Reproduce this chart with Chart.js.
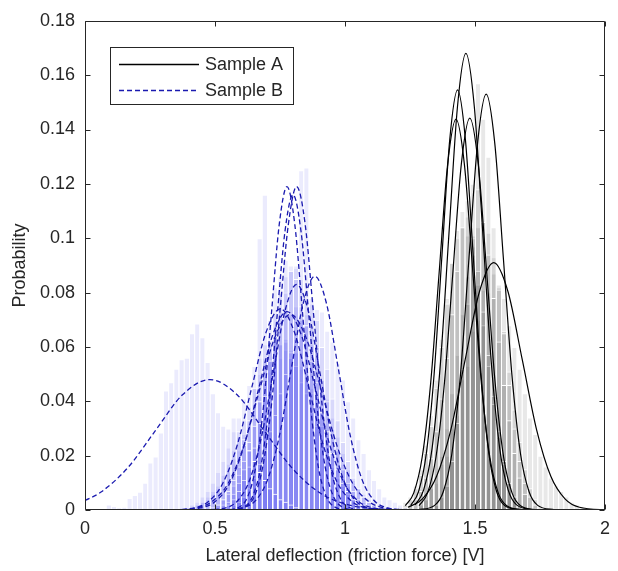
<!DOCTYPE html>
<html lang="en">
<head>
<meta charset="UTF-8">
<title>Lateral deflection histograms</title>
<script src="https://cdn.jsdelivr.net/npm/chart.js"></script>
<style>
  html, body { margin: 0; padding: 0; background: #fff; }
  .chart-box { width: 618px; height: 571px; position: relative; }
</style>
</head>
<body>
<div class="chart-box"><canvas id="histChart"></canvas></div>
<script>
// axis ticks
const xTickValues = [0, 0.5, 1, 1.5, 2];
const xTickLabels = ['0', '0.5', '1', '1.5', '2'];
const yTickValues = [0, 0.02, 0.04, 0.06, 0.08, 0.1, 0.12, 0.14, 0.16, 0.18];
const yTickLabels = ['0', '0.02', '0.04', '0.06', '0.08', '0.1', '0.12', '0.14', '0.16', '0.18'];

const seriesNames = ['Sample A', 'Sample B'];

// histograms: bin width 0.02, first bin centre of each one + probabilities
const binWidth = 0.02;
const histBStart = [0.09, 0.51, 0.55, 0.53, 0.57, 0.49, 0.37, 0.39, 0.39];
const histB = [
  [0.002,0.0015,0.001,0.0012,0.0044,0.0055,0.0067,0.010,0.0175,0.0197,0.0285,0.044,0.047,0.052,0.0555,0.056,0.065,0.0686,0.0636,0.0545,0.043,0.036,0.031,0.030,0.034,0.029,0.026,0.022,0.018,0.014,0.011,0.008,0.006,0.004,0.003,0.002,0.001],
  [0.002,0.004,0.007,0.011,0.016,0.024,0.033,0.045,0.100,0.116,0.070,0.082,0.086,0.092,0.088,0.085,0.075,0.068,0.055,0.047,0.036,0.029,0.021,0.015,0.010,0.007,0.004,0.002,0.001],
  [0.002,0.004,0.007,0.011,0.016,0.023,0.032,0.042,0.055,0.064,0.073,0.080,0.088,0.090,0.125,0.126,0.078,0.070,0.060,0.052,0.041,0.033,0.025,0.018,0.012,0.008,0.005,0.003,0.002,0.001],
  [0.002,0.003,0.006,0.010,0.015,0.022,0.031,0.040,0.052,0.061,0.072,0.080,0.086,0.090,0.089,0.085,0.078,0.068,0.060,0.048,0.040,0.030,0.022,0.015,0.010,0.007,0.004,0.002,0.001],
  [0.002,0.003,0.005,0.008,0.012,0.017,0.022,0.029,0.035,0.043,0.050,0.058,0.063,0.070,0.072,0.076,0.074,0.073,0.066,0.062,0.054,0.048,0.040,0.034,0.026,0.021,0.015,0.011,0.008,0.005,0.004,0.003,0.002,0.001],
  [0.001,0.002,0.004,0.006,0.009,0.013,0.018,0.025,0.031,0.040,0.047,0.055,0.062,0.068,0.073,0.072,0.075,0.070,0.068,0.061,0.056,0.048,0.041,0.034,0.027,0.021,0.015,0.011,0.008,0.005,0.003,0.002,0.001],
  [0.001,0.001,0.002,0.003,0.005,0.007,0.010,0.014,0.018,0.023,0.029,0.034,0.041,0.046,0.053,0.056,0.061,0.061,0.064,0.061,0.062,0.056,0.053,0.047,0.043,0.036,0.031,0.025,0.020,0.016,0.012,0.009,0.006,0.004,0.003,0.002,0.001,0.001,0.001],
  [0.001,0.001,0.002,0.003,0.005,0.007,0.009,0.013,0.017,0.022,0.027,0.033,0.038,0.045,0.050,0.056,0.058,0.062,0.061,0.063,0.059,0.058,0.053,0.049,0.043,0.038,0.031,0.026,0.020,0.016,0.012,0.009,0.006,0.004,0.003,0.002,0.001,0.001,0.001],
  [0.001,0.001,0.002,0.003,0.004,0.006,0.008,0.011,0.014,0.019,0.022,0.028,0.032,0.039,0.042,0.048,0.051,0.056,0.056,0.059,0.056,0.058,0.052,0.051,0.045,0.042,0.036,0.032,0.026,0.022,0.017,0.014,0.010,0.008,0.006,0.004,0.003,0.002,0.001,0.001,0.001]
];
const histAStart = [1.25, 1.23, 1.35, 1.21, 1.29, 1.29];
const histA = [
  [0.002,0.004,0.007,0.012,0.019,0.029,0.041,0.056,0.072,0.088,0.104,0.114,0.120,0.118,0.106,0.094,0.078,0.062,0.046,0.033,0.021,0.012,0.006],
  [0.002,0.004,0.008,0.013,0.021,0.031,0.045,0.060,0.076,0.091,0.103,0.110,0.108,0.100,0.088,0.073,0.057,0.042,0.029,0.018,0.010,0.005],
  [0.002,0.005,0.009,0.018,0.032,0.052,0.076,0.101,0.157,0.144,0.130,0.104,0.083,0.065,0.046,0.030,0.018,0.010,0.005,0.002,0.001],
  [0.001,0.003,0.005,0.009,0.015,0.024,0.035,0.048,0.063,0.078,0.091,0.100,0.104,0.101,0.094,0.083,0.068,0.053,0.039,0.027,0.017,0.010,0.005],
  [0.002,0.004,0.008,0.013,0.020,0.030,0.043,0.057,0.072,0.086,0.097,0.104,0.106,0.102,0.093,0.081,0.066,0.051,0.037,0.025,0.015,0.008,0.004],
  [0.002,0.004,0.008,0.010,0.017,0.020,0.030,0.035,0.048,0.053,0.066,0.070,0.081,0.080,0.087,0.082,0.078,0.068,0.060,0.052,0.043,0.034,0.028,0.020,0.016,0.012,0.009,0.007,0.005,0.003,0.002,0.001]
];

// fitted curves
const fitBX = [
  [0, 0.06, 0.165, 0.27, 0.375, 0.48, 0.585, 0.69, 0.795, 0.90, 1.005, 1.11, 1.28],
  [0.28, 0.537, 0.597, 0.627, 0.657, 0.687, 0.717, 0.747, 0.777, 0.807, 0.837, 0.867, 0.897, 0.927, 0.957, 1.017, 1.28],
  [0.28, 0.554, 0.619, 0.652, 0.684, 0.717, 0.749, 0.782, 0.814, 0.847, 0.879, 0.912, 0.944, 0.977, 1.009, 1.074, 1.28],
  [0.28, 0.552, 0.614, 0.645, 0.676, 0.707, 0.738, 0.769, 0.80, 0.831, 0.862, 0.893, 0.924, 0.955, 0.986, 1.048, 1.28],
  [0.28, 0.524, 0.614, 0.659, 0.704, 0.749, 0.794, 0.839, 0.884, 0.929, 0.974, 1.019, 1.064, 1.109, 1.154, 1.244, 1.28],
  [0.28, 0.454, 0.544, 0.589, 0.634, 0.679, 0.724, 0.769, 0.814, 0.859, 0.904, 0.949, 0.994, 1.039, 1.084, 1.174, 1.28],
  [0.28, 0.311, 0.421, 0.476, 0.531, 0.586, 0.641, 0.696, 0.751, 0.806, 0.861, 0.916, 0.971, 1.026, 1.081, 1.191, 1.28],
  [0.28, 0.337, 0.447, 0.502, 0.557, 0.612, 0.667, 0.722, 0.777, 0.832, 0.887, 0.942, 0.997, 1.052, 1.107, 1.217, 1.28],
  [0.28, 0.31, 0.43, 0.49, 0.55, 0.61, 0.67, 0.73, 0.79, 0.85, 0.91, 0.97, 1.03, 1.09, 1.15, 1.27, 1.28]
];
const fitBY = [
  [0.0035, 0.0065, 0.0156, 0.0291, 0.0424, 0.048, 0.0424, 0.0291, 0.0156, 0.0065, 0.0021, 0.0005, 0.00004],
  [0, 0.00004, 0.0013, 0.0052, 0.0161, 0.0386, 0.0722, 0.105, 0.119, 0.105, 0.0722, 0.0386, 0.0161, 0.0052, 0.0013, 0.00004, 0],
  [0, 0.00004, 0.0013, 0.0052, 0.0161, 0.0386, 0.0722, 0.105, 0.119, 0.105, 0.0722, 0.0386, 0.0161, 0.0052, 0.0013, 0.00004, 0],
  [0, 0.00003, 0.0013, 0.0051, 0.0157, 0.0377, 0.0704, 0.1024, 0.116, 0.1024, 0.0704, 0.0377, 0.0157, 0.0051, 0.0013, 0.00003, 0],
  [0, 0.00003, 0.001, 0.0038, 0.0116, 0.0279, 0.0522, 0.0759, 0.086, 0.0759, 0.0522, 0.0279, 0.0116, 0.0038, 0.001, 0.00003, 0],
  [0, 0.00002, 0.0009, 0.0036, 0.0112, 0.027, 0.0503, 0.0732, 0.083, 0.0732, 0.0503, 0.027, 0.0112, 0.0036, 0.0009, 0.00002, 0],
  [0, 0.00002, 0.0008, 0.0032, 0.01, 0.024, 0.0449, 0.0653, 0.074, 0.0653, 0.0449, 0.024, 0.01, 0.0032, 0.0008, 0.00002, 0],
  [0, 0.00002, 0.0008, 0.0032, 0.0099, 0.0237, 0.0443, 0.0644, 0.073, 0.0644, 0.0443, 0.0237, 0.0099, 0.0032, 0.0008, 0.00002, 0],
  [0, 0.00002, 0.0008, 0.0032, 0.0097, 0.0234, 0.0437, 0.0635, 0.072, 0.0635, 0.0437, 0.0234, 0.0097, 0.0032, 0.0008, 0.00002, 0]
];
const fitAX = [
  [1.27, 1.3025, 1.335, 1.3675, 1.40, 1.4325, 1.465, 1.4975, 1.53, 1.5625, 1.595, 1.6275, 1.66, 1.725],
  [1.253, 1.283, 1.313, 1.343, 1.373, 1.403, 1.433, 1.463, 1.493, 1.523, 1.553, 1.583, 1.613, 1.673],
  [1.279, 1.345, 1.378, 1.411, 1.444, 1.477, 1.51, 1.543, 1.576, 1.609, 1.642, 1.675, 1.708, 1.741, 1.807],
  [1.232, 1.2645, 1.297, 1.3295, 1.362, 1.3945, 1.427, 1.4595, 1.492, 1.5245, 1.557, 1.5895, 1.622, 1.687],
  [1.285, 1.3175, 1.35, 1.3825, 1.415, 1.4475, 1.48, 1.5125, 1.545, 1.5775, 1.61, 1.6425, 1.675, 1.74],
  [1.242, 1.297, 1.352, 1.407, 1.462, 1.517, 1.572, 1.627, 1.682, 1.737, 1.792, 1.847, 1.902, 2.012]
];
const fitAY = [
  [0.0019, 0.0074, 0.0227, 0.0545, 0.1019, 0.1483, 0.168, 0.1483, 0.1019, 0.0545, 0.0227, 0.0074, 0.0019, 0.00005],
  [0.0017, 0.0068, 0.0209, 0.0502, 0.0938, 0.1364, 0.1546, 0.1364, 0.0938, 0.0502, 0.0209, 0.0068, 0.0017, 0.00005],
  [0.00005, 0.0017, 0.0067, 0.0207, 0.0497, 0.0928, 0.135, 0.153, 0.135, 0.0928, 0.0497, 0.0207, 0.0067, 0.0017, 0.00005],
  [0.0016, 0.0063, 0.0195, 0.0467, 0.0872, 0.1269, 0.1438, 0.1269, 0.0872, 0.0467, 0.0195, 0.0063, 0.0016, 0.00004],
  [0.0016, 0.0063, 0.0195, 0.0468, 0.0875, 0.1273, 0.1442, 0.1273, 0.0875, 0.0468, 0.0195, 0.0063, 0.0016, 0.00004],
  [0.001, 0.004, 0.0123, 0.0295, 0.0552, 0.0803, 0.091, 0.0803, 0.0552, 0.0295, 0.0123, 0.004, 0.001, 0.00003]
];

const axisColor = '#262626';
const fontFamily = "'Liberation Sans', Arial, Helvetica, sans-serif";
const colorA = '#000000';
const colorB = '#1a1ab0';

function histPoints(start, values) {
  return values.map((v, i) => ({ x: +(start + i * binWidth).toFixed(3), y: v }));
}
function curvePoints(xs, ys) {
  return xs.map((x, i) => ({ x: x, y: ys[i] }));
}

const datasets = [];
// fitted curves sit on top of the bars (order 0)
fitBX.forEach((xs, i) => {
  datasets.push({
    type: 'line', label: seriesNames[1], data: curvePoints(xs, fitBY[i]),
    borderColor: colorB, borderWidth: 1.3, borderDash: [5, 3],
    pointRadius: 0, fill: false, cubicInterpolationMode: 'monotone', order: 0
  });
});
fitAX.forEach((xs, i) => {
  datasets.push({
    type: 'line', label: seriesNames[0], data: curvePoints(xs, fitAY[i]),
    borderColor: colorA, borderWidth: 1.2,
    pointRadius: 0, fill: false, cubicInterpolationMode: 'monotone', order: 0
  });
});
histB.forEach((vals, i) => {
  datasets.push({
    type: 'bar', label: seriesNames[1] + ' hist', data: histPoints(histBStart[i], vals),
    backgroundColor: 'rgba(25,25,235,0.088)', borderColor: '#ffffff',
    borderWidth: { top: 1, left: 1, right: 0, bottom: 0 }, inflateAmount: 0, order: 1
  });
});
histA.forEach((vals, i) => {
  datasets.push({
    type: 'bar', label: seriesNames[0] + ' hist', data: histPoints(histAStart[i], vals),
    backgroundColor: 'rgba(0,0,0,0.09)', borderColor: '#ffffff',
    borderWidth: { top: 1, left: 1, right: 0, bottom: 0 }, inflateAmount: 0, order: 1
  });
});

// box + inward ticks like the original figure
const frameTicks = {
  id: 'frameTicks',
  afterDatasetsDraw(chart) {
    const { ctx, chartArea: a, scales } = chart;
    const L = Math.round(a.left) + 0.5, R = Math.round(a.right) - 0.5;
    const T = Math.round(a.top) + 0.5, B = Math.round(a.bottom) - 0.5;
    const len = 5;
    ctx.save();
    ctx.strokeStyle = axisColor;
    ctx.lineWidth = 1;
    ctx.beginPath();
    ctx.rect(L, T, R - L, B - T);
    xTickValues.forEach(v => {
      const px = Math.round(scales.x.getPixelForValue(v)) + 0.5;
      ctx.moveTo(px, B); ctx.lineTo(px, B - len);
      ctx.moveTo(px, T); ctx.lineTo(px, T + len);
    });
    yTickValues.forEach(v => {
      const py = Math.round(scales.y.getPixelForValue(v)) + 0.5;
      ctx.moveTo(L, py); ctx.lineTo(L + len, py);
      ctx.moveTo(R, py); ctx.lineTo(R - len, py);
    });
    ctx.stroke();
    ctx.restore();
  }
};

// legend box inside the plot, top left
const boxLegend = {
  id: 'boxLegend',
  afterDraw(chart) {
    const { ctx, chartArea: a } = chart;
    const left = Math.round(a.left) + 25, top = Math.round(a.top) + 26;
    const w = 183, h = 57;
    ctx.save();
    ctx.fillStyle = '#fff';
    ctx.fillRect(left, top, w, h);
    ctx.strokeStyle = axisColor;
    ctx.lineWidth = 1;
    ctx.strokeRect(left + 0.5, top + 0.5, w, h);

    const rows = [
      { y: top + 17, color: colorA, dash: [], name: seriesNames[0] },
      { y: top + 43, color: colorB, dash: [5, 3], name: seriesNames[1] }
    ];
    ctx.font = '18px ' + fontFamily;
    ctx.textBaseline = 'middle';
    rows.forEach(r => {
      ctx.beginPath();
      ctx.setLineDash(r.dash);
      ctx.strokeStyle = r.color;
      ctx.lineWidth = 1.3;
      ctx.moveTo(left + 9, r.y + 0.5);
      ctx.lineTo(left + 89, r.y + 0.5);
      ctx.stroke();
      ctx.setLineDash([]);
      ctx.fillStyle = axisColor;
      ctx.fillText(r.name, left + 95, r.y + 1);
    });
    ctx.restore();
  }
};

new Chart(document.getElementById('histChart'), {
  type: 'bar',
  data: { datasets: datasets },
  options: {
    responsive: true,
    maintainAspectRatio: false,
    animation: false,
    layout: { padding: { top: 17, right: 5, left: 0, bottom: 0 } },
    datasets: {
      bar: { grouped: false, barPercentage: 1, categoryPercentage: 1 }
    },
    plugins: {
      legend: { display: false },
      tooltip: { enabled: false }
    },
    scales: {
      x: {
        type: 'linear', min: 0, max: 2, offset: false,
        grid: { display: false, drawTicks: false, offset: false },
        border: { display: false },
        afterBuildTicks: s => { s.ticks = xTickValues.map(v => ({ value: v })); },
        ticks: {
          padding: 8, color: axisColor, maxRotation: 0, autoSkip: false,
          font: { family: fontFamily, size: 18 },
          callback: (v, i) => xTickLabels[i]
        },
        title: {
          display: true, text: 'Lateral deflection (friction force) [V]', color: axisColor,
          font: { family: fontFamily, size: 18 }, padding: { top: 0, bottom: 4 }
        },
        afterFit: s => { s.height = 61; }
      },
      y: {
        type: 'linear', min: 0, max: 0.18,
        grid: { display: false, drawTicks: false },
        border: { display: false },
        afterBuildTicks: s => { s.ticks = yTickValues.map(v => ({ value: v })); },
        ticks: {
          padding: 10, color: axisColor, autoSkip: false,
          font: { family: fontFamily, size: 18 },
          callback: (v, i) => yTickLabels[i]
        },
        title: {
          display: true, text: 'Probability', color: axisColor,
          font: { family: fontFamily, size: 18 }, padding: { top: 9, bottom: 0 }
        },
        afterFit: s => { s.width = 85; }
      }
    }
  },
  plugins: [frameTicks, boxLegend]
});
</script>
</body>
</html>
